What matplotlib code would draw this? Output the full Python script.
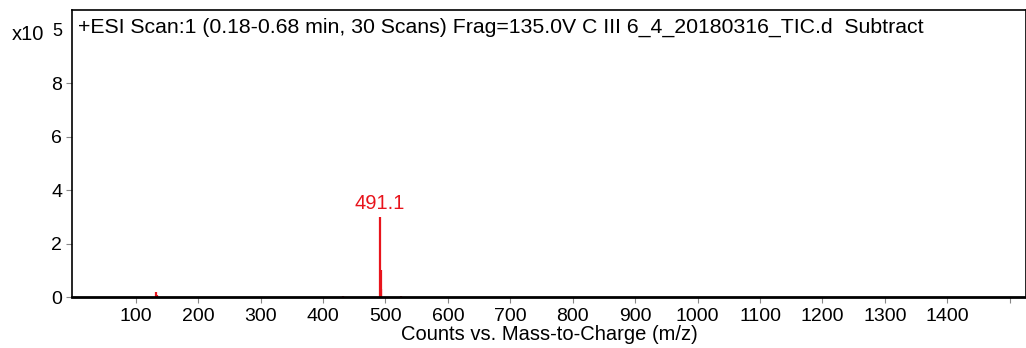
import matplotlib.pyplot as plt

plt.rcParams['font.family'] = ['Liberation Sans', 'DejaVu Sans']

# пики спектра (m/z, интенсивность x10^5)
mz = [133.0, 134.0, 432.0, 491.1, 492.6, 493.6, 524.5]
intensity = [0.19, 0.06, 0.04, 3.0, 1.0, 0.3, 0.05]
label_peak = 491.1
label_text = '491.1'

yticks = [0, 2, 4, 6, 8]
xticks = [100, 200, 300, 400, 500, 600, 700, 800, 900, 1000, 1100, 1200, 1300, 1400, 1500]
xtick_labels = [str(t) for t in xticks[:-1]] + ['']

title = '+ESI Scan:1 (0.18-0.68 min, 30 Scans) Frag=135.0V C III 6_4_20180316_TIC.d  Subtract'
red = '#e8141c'

fig = plt.figure(figsize=(10.26, 3.48), dpi=100)
ax = fig.add_axes([72/1026, 51/348, 954/1026, 287/348])

ax.vlines(mz, 0, intensity, color=red, lw=1.6)
ax.text(label_peak, 3.15, label_text, color=red, fontsize=14.5, ha='center', va='bottom')

ax.set_xlim(-2, 1526)
ax.set_ylim(0, 10.73)
ax.set_yticks(yticks)
ax.set_xticks(xticks)
ax.set_xticklabels(xtick_labels)
ax.tick_params(axis='both', labelsize=14, length=4, color='#888888')
ax.tick_params(axis='x', pad=4)
ax.tick_params(axis='y', pad=3)

for s in ax.spines.values():
    s.set_linewidth(1.2)
ax.spines['bottom'].set_linewidth(2)

ax.set_xlabel('Counts vs. Mass-to-Charge (m/z)', fontsize=14.5, labelpad=0)
ax.text(0.006, 0.94, title, transform=ax.transAxes, fontsize=15.3, va='center', ha='left')

fig.text(12/1026, 1 - 35/348, 'x10', fontsize=14.5, va='center')
fig.text(52/1026, 1 - 31/348, '5', fontsize=13, va='center')

fig.savefig('out.png', dpi=100)
